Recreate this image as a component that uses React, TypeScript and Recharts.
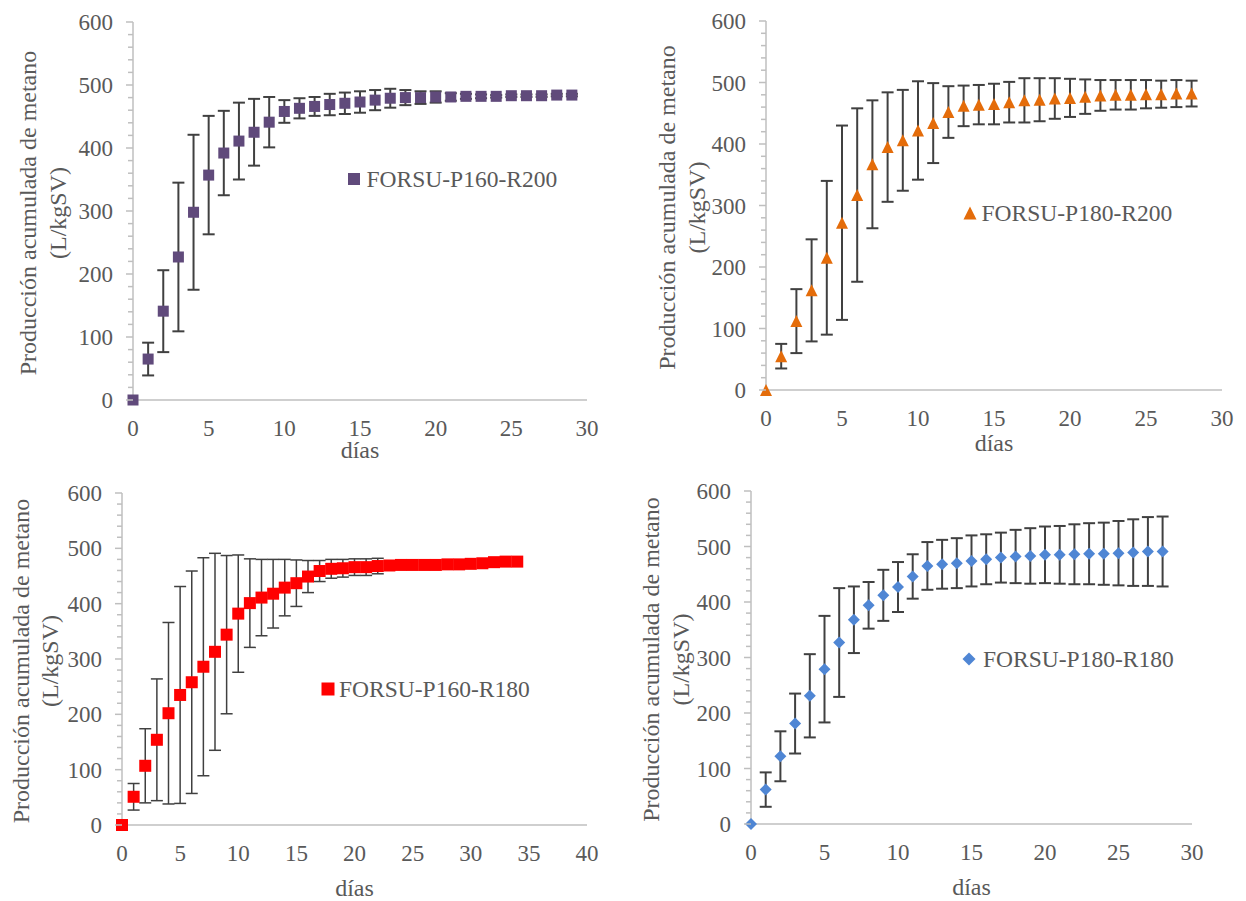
import React from "react";
import { ScatterChart, Scatter, XAxis, YAxis, ErrorBar, Legend } from "recharts";

const FONT = '"Liberation Serif", "DejaVu Serif", "Times New Roman", serif';
const TEXT = "#595959";
const AXIS = "#bfbfbf";
const BAR = "#404040";

// FORSU-P160-R200
const diasP160R200 = [0, 1, 2, 3, 4, 5, 6, 7, 8, 9, 10, 11, 12, 13, 14, 15, 16, 17, 18, 19, 20, 21, 22, 23, 24, 25, 26, 27, 28, 29];
const metanoP160R200 = [0, 65, 141, 227, 298, 357, 392, 411, 425, 441, 458, 463, 466, 469, 471, 473, 476, 479, 480, 480, 481, 481, 482, 482, 482, 483, 483, 483, 484, 484];
const errP160R200 = [0, 26, 65, 118, 123, 94, 67, 61, 53, 40, 18, 16, 15, 17, 17, 17, 16, 15, 12, 10, 9, 6, 4, 3, 2, 2, 2, 2, 2, 2];

// FORSU-P180-R200
const diasP180R200 = [0, 1, 2, 3, 4, 5, 6, 7, 8, 9, 10, 11, 12, 13, 14, 15, 16, 17, 18, 19, 20, 21, 22, 23, 24, 25, 26, 27, 28];
const metanoP180R200 = [0, 55, 112, 162, 215, 272, 317, 367, 395, 406, 422, 434, 452, 462, 464, 465, 468, 471, 472, 474, 475, 477, 479, 480, 480, 481, 481, 482, 482];
const errP180R200 = [0, 20, 52, 83, 125, 158, 141, 104, 89, 82, 80, 65, 42, 33, 32, 33, 33, 36, 35, 33, 31, 28, 25, 24, 24, 23, 22, 22, 21];

// FORSU-P160-R180
const diasP160R180 = [0, 1, 2, 3, 4, 5, 6, 7, 8, 9, 10, 11, 12, 13, 14, 15, 16, 17, 18, 19, 20, 21, 22, 23, 24, 25, 26, 27, 28, 29, 30, 31, 32, 33, 34];
const metanoP160R180 = [0, 51, 107, 154, 202, 235, 258, 286, 313, 344, 382, 401, 411, 418, 429, 437, 449, 459, 463, 464, 466, 466, 468, 469, 470, 470, 470, 470, 471, 471, 472, 473, 475, 476, 476];
const errP160R180 = [0, 24, 67, 110, 164, 196, 201, 197, 178, 143, 106, 80, 69, 62, 51, 42, 29, 19, 17, 16, 15, 15, 14, 0, 0, 0, 0, 0, 0, 0, 0, 0, 0, 0, 0];

// FORSU-P180-R180
const diasP180R180 = [0, 1, 2, 3, 4, 5, 6, 7, 8, 9, 10, 11, 12, 13, 14, 15, 16, 17, 18, 19, 20, 21, 22, 23, 24, 25, 26, 27, 28];
const metanoP180R180 = [0, 62, 122, 181, 231, 279, 327, 368, 394, 412, 427, 446, 465, 468, 470, 474, 477, 480, 482, 483, 485, 485, 486, 487, 487, 488, 489, 491, 491];
const errP180R180 = [0, 31, 45, 54, 75, 96, 98, 60, 42, 46, 45, 40, 43, 44, 45, 46, 45, 45, 48, 50, 51, 52, 54, 55, 56, 58, 60, 62, 63];

const yTicks = [0, 20, 40, 60, 80, 100, 120, 140, 160, 180, 200, 220, 240, 260, 280, 300, 320, 340, 360, 380, 400, 420, 440, 460, 480, 500, 520, 540, 560, 580, 600];
const xTicks30 = [0, 5, 10, 15, 20, 25, 30];
const xTicks40 = [0, 5, 10, 15, 20, 25, 30, 35, 40];

type Forma = "square" | "triangle" | "diamond";

function marcador(forma: Forma, cx: number, cy: number, color: string, s: number) {
  if (forma === "triangle") {
    const pts = `${cx},${cy - s / 2} ${cx + s / 2},${cy + s / 2} ${cx - s / 2},${cy + s / 2}`;
    return <polygon points={pts} fill={color} />;
  }
  if (forma === "diamond") {
    const pts = `${cx},${cy - s / 2} ${cx + s / 2},${cy} ${cx},${cy + s / 2} ${cx - s / 2},${cy}`;
    return <polygon points={pts} fill={color} />;
  }
  return <rect x={cx - s / 2} y={cy - s / 2} width={s} height={s} fill={color} />;
}

const YTick = (props: any) => {
  const { x, y, payload } = props;
  const v = payload.value;
  const mayor = v % 100 === 0;
  return (
    <g>
      <line x1={x - (mayor ? 7 : 5)} x2={x} y1={y} y2={y} stroke={AXIS} strokeWidth={1.5} />
      {mayor && (
        <text x={x - 20} y={y} dy="0.35em" textAnchor="end" fill={TEXT} fontSize={23} style={{ fontFamily: FONT }}>
          {v}
        </text>
      )}
    </g>
  );
};

type PanelProps = {
  left: number;
  top: number;
  width: number;
  height: number;
  margin: { top: number; right: number; bottom: number; left: number };
  yWidth: number;
  xHeight: number;
  xMax: number;
  xTicks: number[];
  dias: number[];
  valores: number[];
  errores: number[];
  color: string;
  forma: Forma;
  tam: number;
  nombre: string;
  leg: { x: number; y: number; gap: number };
  lab: { l1: number; l2: number };
  diasDy: number;
  barW: number;
};

function Panel(p: PanelProps) {
  const data = p.dias.map((d, i) => ({ dia: d, valor: p.valores[i], err: p.errores[i] }));
  return (
    <div style={{ position: "absolute", left: p.left, top: p.top, fontFamily: FONT }}>
      <ScatterChart width={p.width} height={p.height} margin={p.margin} style={{ fontFamily: FONT }}>
        <XAxis
          type="number"
          dataKey="dia"
          domain={[0, p.xMax]}
          ticks={p.xTicks}
          interval={0}
          height={p.xHeight}
          tickLine={false}
          tickSize={0}
          tickMargin={20}
          axisLine={{ stroke: AXIS, strokeWidth: 1.5 }}
          tick={{ fill: TEXT, fontSize: 23, style: { fontFamily: FONT } }}
          label={{
            content: (lp: any) => {
              const vb = lp.viewBox;
              return (
                <text x={vb.x + vb.width / 2} y={vb.y + p.diasDy} dy="0.35em" textAnchor="middle" fill={TEXT} fontSize={24} style={{ fontFamily: FONT }}>
                  días
                </text>
              );
            },
          }}
        />
        <YAxis
          type="number"
          dataKey="valor"
          domain={[0, 600]}
          ticks={yTicks}
          interval={0}
          width={p.yWidth}
          tickLine={false}
          tickSize={0}
          tickMargin={0}
          axisLine={{ stroke: AXIS, strokeWidth: 1.5 }}
          tick={<YTick />}
          label={{
            content: (lp: any) => {
              const vb = lp.viewBox;
              const ax = vb.x + vb.width;
              const cy = vb.y + vb.height / 2 + 2;
              const x1 = ax + p.lab.l1;
              const x2 = ax + p.lab.l2;
              return (
                <g>
                  <text x={x1} y={cy} dy="0.35em" transform={`rotate(-90 ${x1} ${cy})`} textAnchor="middle" fill={TEXT} fontSize={24} style={{ fontFamily: FONT }}>
                    Producción acumulada de metano
                  </text>
                  <text x={x2} y={cy} dy="0.35em" transform={`rotate(-90 ${x2} ${cy})`} textAnchor="middle" fill={TEXT} fontSize={24} style={{ fontFamily: FONT }}>
                    (L/kgSV)
                  </text>
                </g>
              );
            },
          }}
        />
        <Scatter
          name={p.nombre}
          data={data}
          isAnimationActive={false}
          shape={(sp: any) => marcador(p.forma, sp.cx, sp.cy, p.color, p.tam)}
        >
          <ErrorBar dataKey="err" direction="y" width={6} stroke={BAR} strokeWidth={p.barW} isAnimationActive={false} />
        </Scatter>
        <Legend
          layout="vertical"
          align="center"
          verticalAlign="middle"
          wrapperStyle={{ left: p.leg.x - 8, top: p.leg.y - 14, width: "auto", height: "auto" }}
          content={() => (
            <div style={{ display: "flex", alignItems: "center", height: 28, fontFamily: FONT, fontSize: 23.5, color: TEXT, whiteSpace: "nowrap" }}>
              <svg width={16} height={28}>{marcador(p.forma, 8, 14, p.color, p.tam + 1)}</svg>
              <span style={{ marginLeft: p.leg.gap }}>{p.nombre}</span>
            </div>
          )}
        />
      </ScatterChart>
    </div>
  );
}

export default function App() {
  return (
    <div style={{ position: "absolute", left: 0, top: 0, width: 1246, height: 901, background: "#fff", fontFamily: FONT }}>
      <Panel
        left={0} top={0} width={620} height={465}
        margin={{ top: 22, right: 33, bottom: 0, left: 0 }}
        yWidth={133} xHeight={65} xMax={30} xTicks={xTicks30}
        dias={diasP160R200} valores={metanoP160R200} errores={errP160R200}
        color="#604a7b" forma="square" tam={11} nombre="FORSU-P160-R200"
        leg={{ x: 354, y: 179, gap: 4.5 }} lab={{ l1: -105, l2: -75 }} diasDy={50} barW={2}
      />
      <Panel
        left={640} top={0} width={606} height={455}
        margin={{ top: 21, right: 24, bottom: 0, left: 0 }}
        yWidth={126} xHeight={65} xMax={30} xTicks={xTicks30}
        dias={diasP180R200} valores={metanoP180R200} errores={errP180R200}
        color="#e46c0a" forma="triangle" tam={12} nombre="FORSU-P180-R200"
        leg={{ x: 330, y: 213, gap: 3.5 }} lab={{ l1: -99, l2: -69 }} diasDy={53} barW={2}
      />
      <Panel
        left={0} top={470} width={610} height={431}
        margin={{ top: 23, right: 23, bottom: 0, left: 0 }}
        yWidth={122} xHeight={76} xMax={40} xTicks={xTicks40}
        dias={diasP160R180} valores={metanoP160R180} errores={errP160R180}
        color="#ff0000" forma="square" tam={12} nombre="FORSU-P160-R180"
        leg={{ x: 328, y: 219, gap: 3 }} lab={{ l1: -101, l2: -72 }} diasDy={63} barW={1.5}
      />
      <Panel
        left={630} top={470} width={616} height={431}
        margin={{ top: 21, right: 54, bottom: 0, left: 0 }}
        yWidth={121} xHeight={77} xMax={30} xTicks={xTicks30}
        dias={diasP180R180} valores={metanoP180R180} errores={errP180R180}
        color="#4f86d4" forma="diamond" tam={12} nombre="FORSU-P180-R180"
        leg={{ x: 339, y: 189, gap: 6 }} lab={{ l1: -100, l2: -70 }} diasDy={63} barW={2}
      />
    </div>
  );
}
